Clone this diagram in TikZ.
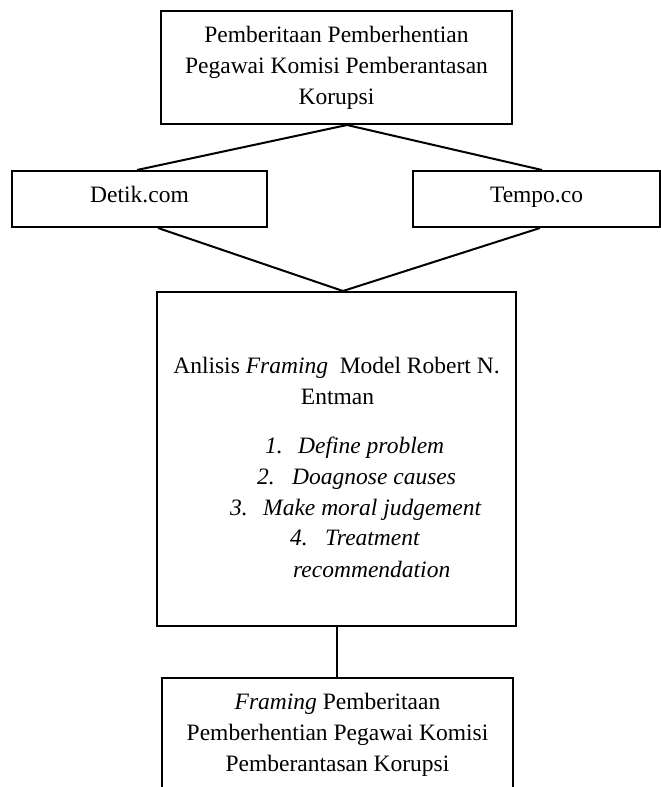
\documentclass[tikz,border=0pt]{standalone}
\usepackage{fontspec}
\setmainfont{Liberation Serif}
\begin{document}
\begin{tikzpicture}[x=1pt,y=-1pt,
  box/.style={draw, line width=2pt, inner sep=0pt, align=center,
    font=\fontsize{23.5}{31}\selectfont},
  onebox/.style={box, text height=16pt, text depth=10pt},
  txt/.style={inner sep=0pt, align=center, font=\fontsize{23.5}{31}\selectfont},
  item/.style={inner sep=0pt, anchor=base west, font=\fontsize{23.5}{31}\selectfont\itshape},
  link/.style={line width=2pt}]
\useasboundingbox (0,0) rectangle (661,787);
\clip (0,0) rectangle (661,787);
\fill[white] (0,0) rectangle (661,787);

% boxes
\node[box, minimum width=351pt, minimum height=113pt] (ntop) at (336.5,67.5)
  {Pemberitaan Pemberhentian\\Pegawai Komisi Pemberantasan\\Korupsi};
\node[onebox, minimum width=255pt, minimum height=56pt] (ndetik) at (139.5,199) {Detik.com};
\node[onebox, minimum width=247pt, minimum height=56pt] (ntempo) at (536.5,199) {Tempo.co};
\node[box, minimum width=359pt, minimum height=334pt] (nmid) at (336.5,459) {};
\node[box, minimum width=351pt, minimum height=140pt] (nbot) at (337.5,748) {};

% middle box text
\node[txt, anchor=base] (mtitle) at (336.5,373) {Anlisis \textit{Framing}\ \ Model Robert N.};
\node[txt, anchor=base] (mname) at (337.5,404) {Entman};
\node[item] (i1) at (265,453) {\makebox[33pt][l]{1.}Define problem};
\node[item] (i2) at (257,484) {\makebox[35pt][l]{2.}Doagnose causes};
\node[item] (i3) at (230,515) {\makebox[33pt][l]{3.}Make moral judgement};
\node[item] (i4) at (290,545) {\makebox[35pt][l]{4.}Treatment};
\node[item] (i5) at (293,577) {recommendation};

% bottom box text
\node[txt] (btext) at (337.5,735)
  {\textit{Framing} Pemberitaan\\Pemberhentian Pegawai Komisi\\Pemberantasan Korupsi};

% connectors
\draw[link] ([xshift=10.5pt]ntop.south) -- ([xshift=-2.5pt]ndetik.north);
\draw[link] ([xshift=10.5pt]ntop.south) -- ([xshift=5.5pt]ntempo.north);
\draw[link] ([xshift=18.5pt]ndetik.south) -- ([xshift=6.5pt]nmid.north);
\draw[link] ([xshift=3.5pt]ntempo.south) -- ([xshift=6.5pt]nmid.north);
\draw[link] (nmid.south) -- (nmid.south |- nbot.north);
\end{tikzpicture}
\end{document}
